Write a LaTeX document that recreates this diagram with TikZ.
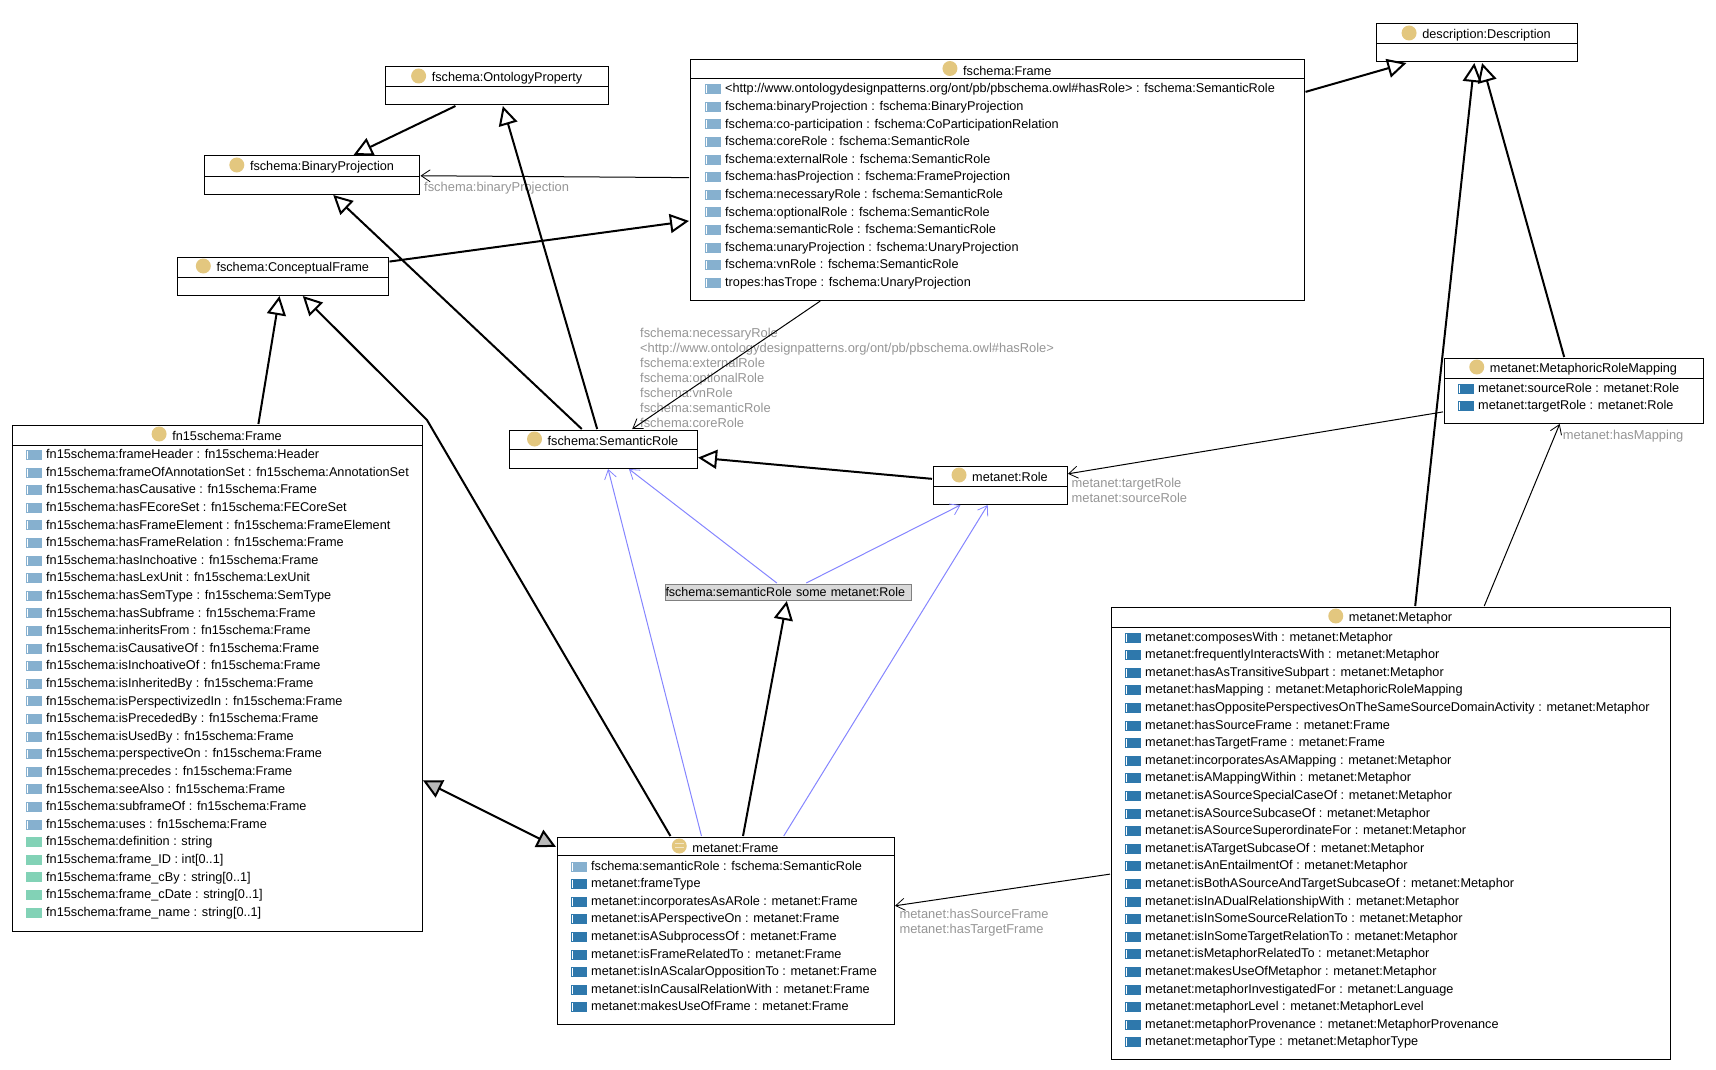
\documentclass[tikz,border=0pt]{standalone}
\usepackage{fontspec}
\setmainfont{Liberation Sans}
\usetikzlibrary{arrows.meta}
\definecolor{classdot}{HTML}{E3C77F}
\definecolor{objprop}{HTML}{86B0CF}
\definecolor{ownprop}{HTML}{2E78AC}
\definecolor{dataprop}{HTML}{82D2B6}
\definecolor{edgegray}{HTML}{959595}
\definecolor{linkblue}{HTML}{8585FF}
\tikzset{
  classbox/.style={draw,line width=1pt,inner sep=0pt,outer sep=1pt},
  classtitle/.style={inner sep=0pt,font=\fontsize{12.7}{15}\selectfont},
  rowtext/.style={inner sep=0pt,anchor=mid west,font=\fontsize{12.7}{15}\selectfont},
  edgelabel/.style={inner sep=0pt,anchor=north west,align=left,text=edgegray,font=\fontsize{12.9}{15}\selectfont},
  isa/.style={-{Triangle[open,length=19pt,width=19pt,line width=2pt]},line width=2pt},
  sameas/.style={{Triangle[fill=gray!55,length=19pt,width=19pt,line width=2pt]}-{Triangle[fill=gray!55,length=19pt,width=19pt,line width=2pt]},line width=2pt},
  linkto/.style={-{Straight Barb[length=9pt,width=12pt,line width=.8pt]},line width=1pt},
  somelink/.style={linkto,draw=linkblue}
}
% one block of property rows: name, icon x, first y, colour, stripe colour, list
\newcommand{\proprows}[6]{
  \foreach \txt [count=\i from 0] in {#6} {
    \pgfmathsetmacro\rowy{#3+17.6*\i}
    \fill[#4] (#2,\rowy-4.5) rectangle ++(15.5,10);
    \draw[#5,line width=.6pt] (#2+1,\rowy-3.5) -- ++(0,8);
    \node[rowtext] (#1\i) at (#2+20,\rowy+1.5) {\txt};
  }
}
\begin{document}
\begin{tikzpicture}[x=1pt,y=-1pt]
\useasboundingbox (0,0) rectangle (1716,1070);
% class boxes
\foreach \id/\l/\t/\r/\m/\b/\name in {
  ontprop/385.5/67/608.5/87/105/fschema:OntologyProperty,
  binproj/204.5/156/419.5/176/194/fschema:BinaryProjection,
  conframe/177/257/388.5/277/295/fschema:ConceptualFrame,
  frame/690/59.5/1304.5/79/300/fschema:Frame,
  descr/1376/24/1577/44/62/description:Description,
  fnframe/12/425/422/445/931/fn15schema:Frame,
  semrole/509/430/697/449/468/fschema:SemanticRole,
  role/933/466/1067/486/504/metanet:Role,
  mapping/1444/358/1703/378/423/metanet:MetaphoricRoleMapping,
  metaframe/557/837/894/855/1024/metanet:Frame,
  metaphor/1111/607/1670/627/1059/metanet:Metaphor} {
  \pgfmathsetmacro\boxw{\r-\l}
  \pgfmathsetmacro\boxh{\b-\t}
  \node[classbox,minimum width=\boxw pt,minimum height=\boxh pt] (\id) at ({(\l+\r)/2},{(\t+\b)/2}) {};
  \draw[line width=1pt] (\l,\m) -- (\r,\m);
  \node[classtitle] (\id-title) at ({(\l+\r)/2+10},{\t+11}) {\name};
  \fill[classdot] (\id-title.west) ++(-13,-2) circle (7.5);
}
% bars inside the dot of metanet:Frame
\fill[white,opacity=.55] (metaframe-title.west) ++(-17.5,-3.7) rectangle ++(9,-1.3);
\fill[white,opacity=.55] (metaframe-title.west) ++(-17.5,0) rectangle ++(9,-1.3);
\node[draw=gray,fill=gray!30,line width=1pt,inner sep=0pt,outer sep=1pt,minimum height=16pt,text width=246pt,font=\fontsize{12.5}{15}\selectfont] (some) at (788.5,592) {fschema:semanticRole some metanet:Role};
% rows
\proprows{fr}{705}{88.7}{objprop}{white}{<http://www.ontologydesignpatterns.org/ont/pb/pbschema.owl\#hasRole> : fschema:SemanticRole,
  fschema:binaryProjection : fschema:BinaryProjection,
  fschema:co-participation : fschema:CoParticipationRelation,
  fschema:coreRole : fschema:SemanticRole,
  fschema:externalRole : fschema:SemanticRole,
  fschema:hasProjection : fschema:FrameProjection,
  fschema:necessaryRole : fschema:SemanticRole,
  fschema:optionalRole : fschema:SemanticRole,
  fschema:semanticRole : fschema:SemanticRole,
  fschema:unaryProjection : fschema:UnaryProjection,
  fschema:vnRole : fschema:SemanticRole,
  tropes:hasTrope : fschema:UnaryProjection}
\proprows{fn}{26}{454.5}{objprop}{white}{fn15schema:frameHeader : fn15schema:Header,
  fn15schema:frameOfAnnotationSet : fn15schema:AnnotationSet,
  fn15schema:hasCausative : fn15schema:Frame,
  fn15schema:hasFEcoreSet : fn15schema:FECoreSet,
  fn15schema:hasFrameElement : fn15schema:FrameElement,
  fn15schema:hasFrameRelation : fn15schema:Frame,
  fn15schema:hasInchoative : fn15schema:Frame,
  fn15schema:hasLexUnit : fn15schema:LexUnit,
  fn15schema:hasSemType : fn15schema:SemType,
  fn15schema:hasSubframe : fn15schema:Frame,
  fn15schema:inheritsFrom : fn15schema:Frame,
  fn15schema:isCausativeOf : fn15schema:Frame,
  fn15schema:isInchoativeOf : fn15schema:Frame,
  fn15schema:isInheritedBy : fn15schema:Frame,
  fn15schema:isPerspectivizedIn : fn15schema:Frame,
  fn15schema:isPrecededBy : fn15schema:Frame,
  fn15schema:isUsedBy : fn15schema:Frame,
  fn15schema:perspectiveOn : fn15schema:Frame,
  fn15schema:precedes : fn15schema:Frame,
  fn15schema:seeAlso : fn15schema:Frame,
  fn15schema:subframeOf : fn15schema:Frame,
  fn15schema:uses : fn15schema:Frame}
\proprows{fd}{26}{841.7}{dataprop}{dataprop}{fn15schema:definition : string,
  fn15schema:frame\_ID : int[0..1],
  fn15schema:frame\_cBy : string[0..1],
  fn15schema:frame\_cDate : string[0..1],
  fn15schema:frame\_name : string[0..1]}
\proprows{ma}{1458}{388}{ownprop}{white}{metanet:sourceRole : metanet:Role,
  metanet:targetRole : metanet:Role}
\proprows{ms}{571}{866}{objprop}{white}{fschema:semanticRole : fschema:SemanticRole}
\proprows{mf}{571}{883.6}{ownprop}{white}{metanet:frameType,
  metanet:incorporatesAsARole : metanet:Frame,
  metanet:isAPerspectiveOn : metanet:Frame,
  metanet:isASubprocessOf : metanet:Frame,
  metanet:isFrameRelatedTo : metanet:Frame,
  metanet:isInAScalarOppositionTo : metanet:Frame,
  metanet:isInCausalRelationWith : metanet:Frame,
  metanet:makesUseOfFrame : metanet:Frame}
\proprows{mp}{1125}{637}{ownprop}{white}{metanet:composesWith : metanet:Metaphor,
  metanet:frequentlyInteractsWith : metanet:Metaphor,
  metanet:hasAsTransitiveSubpart : metanet:Metaphor,
  metanet:hasMapping : metanet:MetaphoricRoleMapping,
  metanet:hasOppositePerspectivesOnTheSameSourceDomainActivity : metanet:Metaphor,
  metanet:hasSourceFrame : metanet:Frame,
  metanet:hasTargetFrame : metanet:Frame,
  metanet:incorporatesAsAMapping : metanet:Metaphor,
  metanet:isAMappingWithin : metanet:Metaphor,
  metanet:isASourceSpecialCaseOf : metanet:Metaphor,
  metanet:isASourceSubcaseOf : metanet:Metaphor,
  metanet:isASourceSuperordinateFor : metanet:Metaphor,
  metanet:isATargetSubcaseOf : metanet:Metaphor,
  metanet:isAnEntailmentOf : metanet:Metaphor,
  metanet:isBothASourceAndTargetSubcaseOf : metanet:Metaphor,
  metanet:isInADualRelationshipWith : metanet:Metaphor,
  metanet:isInSomeSourceRelationTo : metanet:Metaphor,
  metanet:isInSomeTargetRelationTo : metanet:Metaphor,
  metanet:isMetaphorRelatedTo : metanet:Metaphor,
  metanet:makesUseOfMetaphor : metanet:Metaphor,
  metanet:metaphorInvestigatedFor : metanet:Language,
  metanet:metaphorLevel : metanet:MetaphorLevel,
  metanet:metaphorProvenance : metanet:MetaphorProvenance,
  metanet:metaphorType : metanet:MetaphorType}
% edge labels
\node[edgelabel] (binlabel) at (424,182) {fschema:binaryProjection};
\begin{scope}
\clip (630,320) rectangle (1100,427);
\node[edgelabel] (rolelabel) at (640,328) {fschema:necessaryRole\\<http://www.ontologydesignpatterns.org/ont/pb/pbschema.owl\#hasRole>\\fschema:externalRole\\fschema:optionalRole\\fschema:vnRole\\fschema:semanticRole\\fschema:coreRole};
\end{scope}
\node[edgelabel] (rolesource) at (1071.5,478) {metanet:targetRole\\metanet:sourceRole};
\node[edgelabel] (maplabel) at (1562.7,430) {metanet:hasMapping};
\node[edgelabel] (framelabel) at (899.3,909) {metanet:hasSourceFrame\\metanet:hasTargetFrame};
% subclass links
\coordinate (bend) at (427,420);
\draw[isa] (ontprop) -- (binproj);
\draw[isa] (semrole) -- (ontprop);
\draw[isa] (semrole) -- (binproj);
\draw[isa] (conframe) -- (frame);
\draw[isa] (fnframe) -- (conframe);
\draw[isa] (metaframe) -- (bend) -- (conframe);
\draw[sameas] (fnframe) -- (metaframe);
\draw[isa] (metaframe) -- (some);
\draw[isa] (frame) -- (descr);
\draw[isa] (mapping) -- (descr);
\draw[isa] (metaphor) -- (descr);
\draw[isa] (role) -- (semrole);
% object property links
\draw[linkto] (frame) -- (binproj);
\draw[linkto] (frame) -- (semrole);
\draw[linkto] (mapping) -- (role);
\draw[linkto] (metaphor) -- (mapping);
\draw[linkto] (metaphor) -- (metaframe);
\draw[somelink] (metaframe) -- (semrole);
\draw[somelink] (some) -- (semrole);
\draw[somelink] (some) -- (role);
\draw[somelink] (metaframe) -- (role);
\end{tikzpicture}
\end{document}
